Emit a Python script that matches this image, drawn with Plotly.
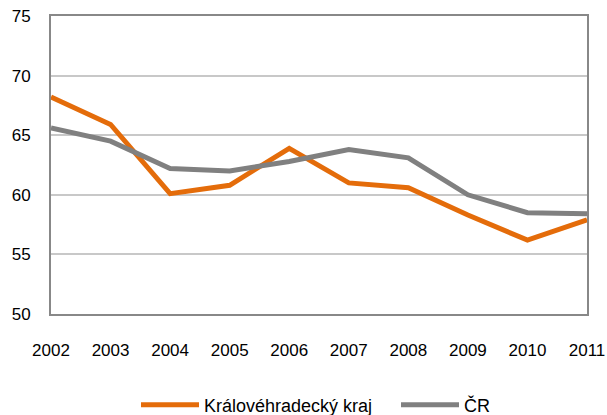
import plotly.graph_objects as go

years = ["2002", "2003", "2004", "2005", "2006", "2007", "2008", "2009", "2010", "2011"]
kralovehradecky = [68.2, 65.9, 60.1, 60.8, 63.9, 61.0, 60.6, 58.3, 56.2, 57.9]
cr = [65.6, 64.5, 62.2, 62.0, 62.8, 63.8, 63.1, 60.0, 58.5, 58.4]

W, H = 607, 415

fig = go.Figure()
fig.add_trace(go.Scatter(x=years, y=kralovehradecky, mode="lines", name="Královéhradecký kraj",
                         line=dict(color="#E46C0A", width=5), legend="legend"))
fig.add_trace(go.Scatter(x=years, y=cr, mode="lines", name="ČR",
                         line=dict(color="#808080", width=5), legend="legend2"))

leg_common = dict(orientation="h", xanchor="left", xref="container", yref="container",
                  y=10 / H, yanchor="middle", font=dict(size=18), itemwidth=58,
                  bgcolor="rgba(0,0,0,0)")

fig.update_layout(
    width=W, height=H,
    margin=dict(l=51, r=20, t=16, b=101, autoexpand=False),
    paper_bgcolor="white", plot_bgcolor="white",
    font=dict(family="Liberation Sans, Arial, sans-serif", size=17, color="black"),
    showlegend=True,
    legend=dict(x=136 / W, **leg_common),
    legend2=dict(x=396 / W, **leg_common),
    xaxis=dict(type="category", range=[0, 9], showgrid=False, showline=True,
               linecolor="#888888", linewidth=2, mirror=True, ticks="", ticklen=0,
               ticklabelstandoff=20, automargin=False, ticklabeloverflow="allow"),
    yaxis=dict(range=[50, 75], dtick=5, showgrid=True, gridcolor="#C8C8C8", gridwidth=1.5,
               showline=True, linecolor="#888888", linewidth=2, mirror=True, ticks="",
               zeroline=False, ticklabelstandoff=15, automargin=False,
               ticklabeloverflow="allow"),
)
fig.write_html("out.html", config={"displayModeBar": False},
               post_script="document.body.style.margin='0';document.body.style.overflow='hidden';")
